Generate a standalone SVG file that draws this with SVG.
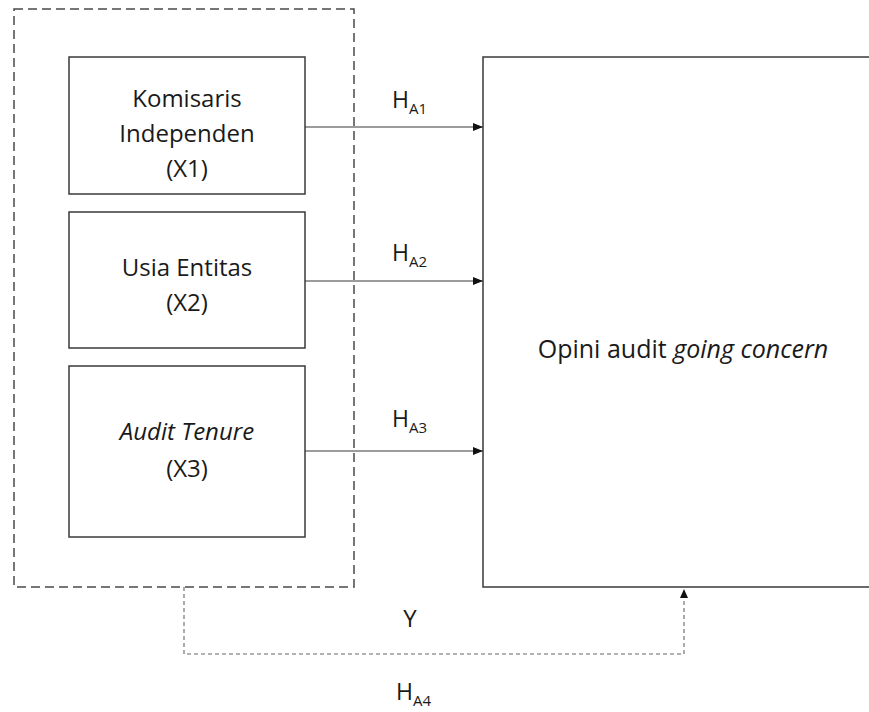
<svg xmlns="http://www.w3.org/2000/svg" width="869" height="712" viewBox="0 0 869 712">
<style>
.box{fill:#fff;stroke:#3a3a3a;stroke-width:1.5}
.grp{fill:none;stroke:#4a4a4a;stroke-width:1.5;stroke-dasharray:9 5}
.t{font-family:"Open Sans","Liberation Sans",sans-serif;font-size:24px;fill:#1a1a1a;text-anchor:middle}
.big{font-size:25px}
.h{font-family:"Open Sans","Liberation Sans",sans-serif;font-size:23px;fill:#1a1a1a}
.sub{font-size:15px}
.arr{fill:none;stroke:#3a3a3a;stroke-width:1.2}
.dot{fill:none;stroke:#666;stroke-width:1.1;stroke-dasharray:4 3}
</style>
<defs>
<marker id="ah" viewBox="0 0 10 10" refX="10" refY="5" markerWidth="10" markerHeight="10" markerUnits="userSpaceOnUse" orient="auto">
<path d="M0,1 L10,5 L0,9 Z" fill="#111"/>
</marker>
</defs>
<g id="group-x">
<rect class="grp" x="14" y="9" width="340" height="578"/>
</g>
<g id="x1">
<rect class="box" x="69" y="57" width="236" height="137"/>
<text class="t" x="187" y="107">Komisaris</text>
<text class="t" x="187" y="142">Independen</text>
<text class="t" x="187" y="177">(X1)</text>
</g>
<g id="x2">
<rect class="box" x="69" y="212" width="236" height="136"/>
<text class="t" x="187" y="276">Usia Entitas</text>
<text class="t" x="187" y="311">(X2)</text>
</g>
<g id="x3">
<rect class="box" x="69" y="366" width="236" height="171"/>
<text class="t" x="187" y="440" font-style="italic">Audit Tenure</text>
<text class="t" x="187" y="477">(X3)</text>
</g>
<g id="y">
<rect class="box" x="483" y="57" width="400" height="530"/>
<text class="t big" x="683" y="358">Opini audit <tspan font-style="italic">going concern</tspan></text>
</g>
<g id="connectors">
<line class="arr" x1="305" y1="127" x2="483" y2="127" marker-end="url(#ah)"/>
<line class="arr" x1="305" y1="281" x2="483" y2="281" marker-end="url(#ah)"/>
<line class="arr" x1="305" y1="451" x2="483" y2="451" marker-end="url(#ah)"/>
<path class="dot" d="M184,587 V654 H684 V598"/>
<path d="M684,589 L688,598 L680,598 Z" fill="#111"/>
</g>
<g id="labels">
<text class="h" x="392" y="108">H<tspan class="sub" dy="6">A1</tspan></text>
<text class="h" x="392" y="261">H<tspan class="sub" dy="6">A2</tspan></text>
<text class="h" x="392" y="427">H<tspan class="sub" dy="6">A3</tspan></text>
<text class="t" x="410" y="627">Y</text>
<text class="h" x="396" y="700">H<tspan class="sub" dy="6">A4</tspan></text>
</g>
</svg>
